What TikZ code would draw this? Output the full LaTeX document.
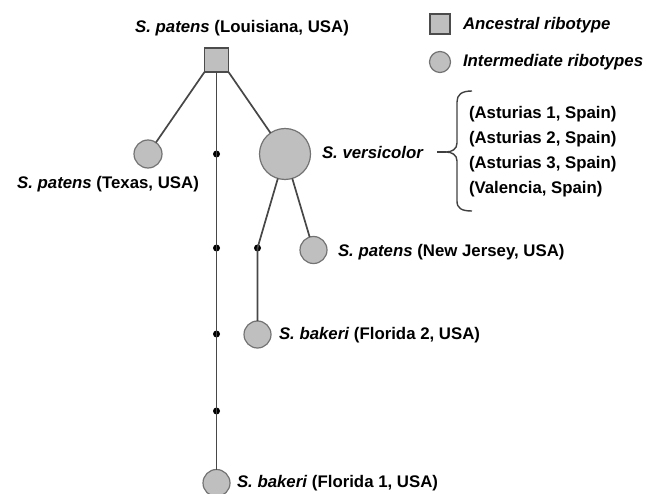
\documentclass[tikz,border=0pt]{standalone}
\usepackage{fontspec}
\setmainfont{Liberation Sans}
\begin{document}
\begin{tikzpicture}[x=1pt,y=-1pt,
  every node/.style={inner sep=0pt,outer sep=0pt},
  lbl/.style={font=\fontsize{16.8}{19}\selectfont\bfseries, anchor=west},
  anc/.style={draw=black!70, fill=black!25, line width=1.4pt, minimum size=#1, shape=rectangle},
  inter/.style={draw=black!55, fill=black!25, line width=1.2pt, circle, minimum size=#1},
  dotn/.style={circle, fill=black, minimum size=7pt},
  edge/.style={draw=black!72, line width=1.7pt},
  brc/.style={draw=black!75, line width=1.4pt}
]
\useasboundingbox (0,0) rectangle (655,494);

% legend
\node[anc=20pt] (lsq) at (440,24) {};
\node[lbl] (lsqt) at (463,25) {\itshape Ancestral ribotype};
\node[inter=21pt] (lci) at (440,62) {};
\node[lbl] (lcit) at (463,62) {\itshape Intermediate ribotypes};

% nodes
\node[anc=24pt] (root) at (216.5,60) {};
\node[lbl, anchor=center] (roott) at (242,28) {\textit{S. patens} (Louisiana, USA)};

\node[inter=28pt] (tex) at (148,154) {};
\node[lbl, anchor=center] (text) at (108,184) {\textit{S. patens} (Texas, USA)};

\node[inter=51pt] (ver) at (285,154) {};
\node[lbl] (vert) at (322,152) {\textit{S. versicolor}};

\node[inter=27pt] (nj) at (313.5,250) {};
\node[lbl] (njt) at (338,252) {\textit{S. patens} (New Jersey, USA)};

\node[inter=27pt] (fl2) at (257.5,334.5) {};
\node[lbl] (fl2t) at (279,335) {\textit{S. bakeri} (Florida 2, USA)};

\node[inter=27pt] (fl1) at (216.5,483) {};
\node[lbl] (fl1t) at (237,483) {\textit{S. bakeri} (Florida 1, USA)};

% intermediate dots
\node[dotn] (d1) at (216.5,154) {};
\node[dotn] (d2) at (216.5,248) {};
\node[dotn] (d3) at (216.5,334) {};
\node[dotn] (d4) at (216.5,411) {};
\node[dotn] (d5) at (257.5,248) {};

% connectors
\draw[edge] (root.south west) -- (tex);
\draw[edge] (root.south east) -- (ver);
\draw[edge] (root.south) -- (d1.center) -- (d2.center) -- (d3.center) -- (d4.center) -- (fl1);
\draw[edge] (ver) -- (d5.center) -- (fl2);
\draw[edge] (ver) -- (nj);

% Spanish localities
\node[lbl] (a1) at (469,114) {(Asturias 1, Spain)};
\node[lbl] (a2) at (469,139) {(Asturias 2, Spain)};
\node[lbl] (a3) at (469,164) {(Asturias 3, Spain)};
\node[lbl] (va) at (469,189) {(Valencia, Spain)};

% brace
\coordinate (btip) at (446,152);
\coordinate (bdash) at (437,152);
\draw[brc] (bdash) -- (btip);
\draw[brc] (472,91) .. controls (461,91) and (457,95) .. (457,102) -- (457,143)
  .. controls (457,149) and (452,152) .. (btip)
  .. controls (452,152) and (457,155) .. (457,161) -- (457,201)
  .. controls (457,208) and (461,211) .. (472,211);
\end{tikzpicture}
\end{document}
